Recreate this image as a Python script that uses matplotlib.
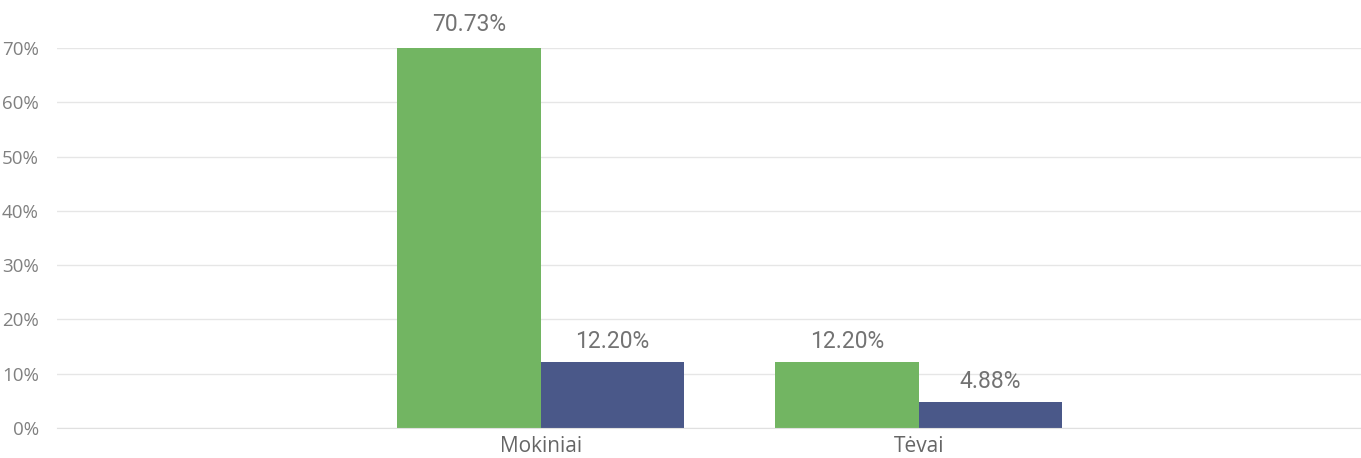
import numpy as np
import matplotlib.pyplot as plt

# duomenys
categories = ['Mokiniai', 'Tėvai']
series_green = [70.73, 12.20]
series_blue = [12.20, 4.88]
yticks = [0, 10, 20, 30, 40, 50, 60, 70]

green = '#72B562'
blue = '#4A5889'

fig = plt.figure(figsize=(13.61, 4.58), dpi=100)
ax = fig.add_axes([57 / 1361, 1 - 428 / 458, 1 - 57 / 1361, 380 / 458])

x = np.arange(len(categories))
w = 0.38
b1 = ax.bar(x - w / 2, series_green, width=w, color=green, zorder=2)
b2 = ax.bar(x + w / 2, series_blue, width=w, color=blue, zorder=2)

for bars, vals in [(b1, series_green), (b2, series_blue)]:
    for rect, v in zip(bars, vals):
        ax.annotate(f'{v:.2f}%', (rect.get_x() + rect.get_width() / 2, v),
                    xytext=(0, 6), textcoords='offset points',
                    ha='center', va='bottom', fontsize=16.5, family='Roboto',
                    color='#737373', annotation_clip=False)

ax.set_ylim(0, 70)
ax.set_xlim(-1.28, 2.17)
ax.set_yticks(yticks)
ax.set_yticklabels([f'{t}%' for t in yticks], family='Open Sans', fontsize=13.5, color='#808080')
ax.set_xticks(x)
ax.set_xticklabels(categories, family='Open Sans', fontsize=15, color='#666666')
ax.tick_params(axis='both', length=0)
ax.tick_params(axis='y', pad=13)
ax.tick_params(axis='x', pad=6)

ax.grid(axis='y', color='#e6e6e6', linewidth=1, zorder=0)
for s in ['top', 'right', 'left']:
    ax.spines[s].set_visible(False)
ax.spines['bottom'].set_color('#e0e0e0')
ax.set_axisbelow(True)

fig.savefig('out.png', dpi=100)
